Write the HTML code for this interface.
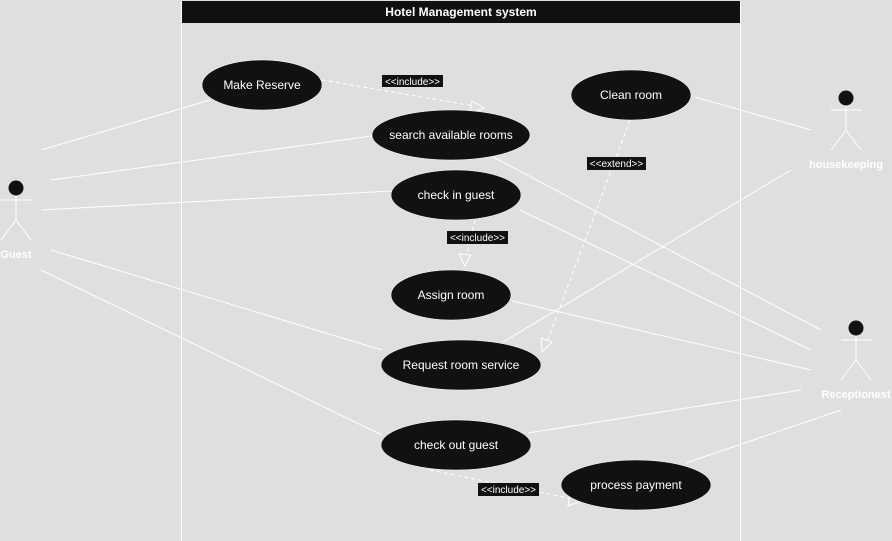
<!DOCTYPE html>
<html><head><style>
body{margin:0;background:#dfdfdf;}
svg{display:block;font-family:"Liberation Sans",Arial,sans-serif;}
</style></head><body>
<svg width="892" height="541" viewBox="0 0 892 541">
<rect width="892" height="541" fill="#dfdfdf"/>
<rect x="181.5" y="1.5" width="559" height="545" fill="none" stroke="#fff" stroke-width="1"/>
<rect x="182" y="1" width="558" height="22" fill="#111"/>
<text x="461" y="16" fill="#fff" font-size="12" font-weight="bold" text-anchor="middle">Hotel Management system</text>
<g stroke="#fff" stroke-width="1" fill="none">
<line x1="41" y1="150" x2="210" y2="100"/>
<line x1="51" y1="180" x2="372" y2="136"/>
<line x1="41" y1="210" x2="392" y2="191"/>
<line x1="51" y1="250" x2="382" y2="350"/>
<line x1="41" y1="270" x2="382" y2="435"/>
<line x1="811" y1="130" x2="695" y2="97"/>
<line x1="791" y1="170" x2="503" y2="342"/>
<line x1="821" y1="330" x2="493" y2="157"/>
<line x1="811" y1="350" x2="520" y2="210"/>
<line x1="811" y1="370" x2="512" y2="301"/>
<line x1="801" y1="390" x2="528" y2="433"/>
<line x1="841" y1="410" x2="686" y2="463"/>
</g>
<g stroke="#fff" stroke-width="1" fill="none" stroke-dasharray="4,3">
<line x1="322" y1="80" x2="480" y2="107"/>
<line x1="475" y1="220" x2="465" y2="262"/>
<line x1="630" y1="120" x2="544" y2="350"/>
<line x1="430" y1="470" x2="578" y2="500"/>
</g>
<g stroke="#fff" stroke-width="1" fill="#dfdfdf">
<polygon points="484,108 472,101 470,113"/>
<polygon points="465,266 459,254 471,255"/>
<polygon points="542,352 541,338 552,342"/>
<polygon points="582,501 570,494 568,506"/>
</g>
<g fill="#111" stroke="#fff" stroke-width="0.5">
<ellipse cx="262" cy="85" rx="60" ry="25"/>
<ellipse cx="451" cy="135" rx="79" ry="25"/>
<ellipse cx="631" cy="95" rx="60" ry="25"/>
<ellipse cx="456" cy="195" rx="65" ry="25"/>
<ellipse cx="451" cy="295" rx="60" ry="25"/>
<ellipse cx="461" cy="365" rx="80" ry="25"/>
<ellipse cx="456" cy="445" rx="75" ry="25"/>
<ellipse cx="636" cy="485" rx="75" ry="25"/>
</g>
<g fill="#fff" font-size="12" text-anchor="middle">
<text x="262" y="89">Make Reserve</text>
<text x="451" y="139">search available rooms</text>
<text x="631" y="99">Clean room</text>
<text x="456" y="199">check in guest</text>
<text x="451" y="299">Assign room</text>
<text x="461" y="369">Request room service</text>
<text x="456" y="449">check out guest</text>
<text x="636" y="489">process payment</text>
</g>
<g fill="#111">
<rect x="382" y="75" width="61" height="12"/>
<rect x="447" y="231" width="61" height="13"/>
<rect x="587" y="157" width="59" height="13"/>
<rect x="478" y="483" width="61" height="13"/>
</g>
<g fill="#fff" font-size="10" text-anchor="middle">
<text x="412.5" y="85">&lt;&lt;include&gt;&gt;</text>
<text x="477.5" y="241">&lt;&lt;include&gt;&gt;</text>
<text x="616.5" y="167">&lt;&lt;extend&gt;&gt;</text>
<text x="508.5" y="493">&lt;&lt;include&gt;&gt;</text>
</g>
<g stroke="#fff" stroke-width="1" fill="none">
<path d="M16 196V220M1 200H32M16 220L1 240M16 220L31 240"/>
<path d="M846 106V130M831 110H862M846 130L831 150M846 130L861 150"/>
<path d="M856 336V360M841 340H872M856 360L841 380M856 360L871 380"/>
</g>
<g fill="#111">
<circle cx="16" cy="188" r="7.5"/>
<circle cx="846" cy="98" r="7.5"/>
<circle cx="856" cy="328" r="7.5"/>
</g>
<g fill="#fff" font-size="11" font-weight="bold" text-anchor="middle">
<text x="16" y="258">Guest</text>
<text x="846" y="168">housekeeping</text>
<text x="856" y="398">Receptionest</text>
</g>
</svg>
</body></html>
